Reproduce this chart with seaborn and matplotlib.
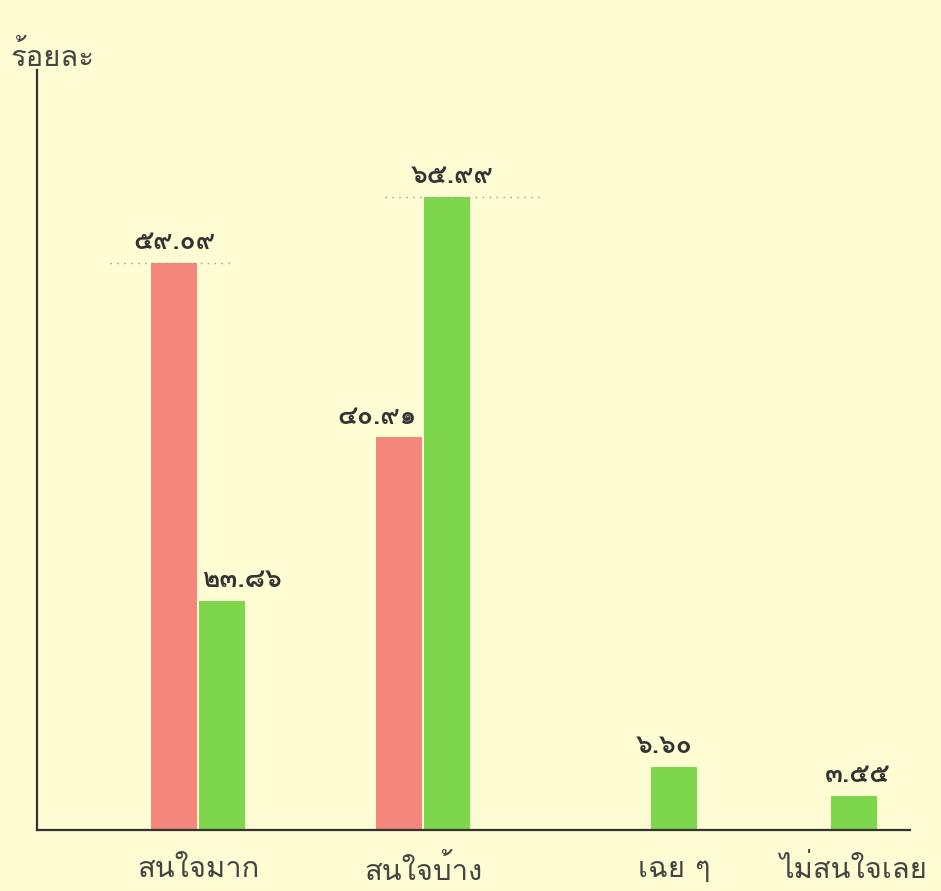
import matplotlib
matplotlib.use("Agg")
import matplotlib.pyplot as plt
import seaborn as sns
import pandas as pd

# ---- data ----
categories = ["สนใจมาก", "สนใจบ้าง", "เฉย ๆ", "ไม่สนใจเลย"]
red_values = [59.09, 40.91, None, None]
green_values = [23.86, 65.99, 6.60, 3.55]
red_labels = ["๕๙.๐๙", "๔๐.๙๑", None, None]
green_labels = ["๒๓.๘๖", "๖๕.๙๙", "๖.๖๐", "๓.๕๕"]
y_label = "ร้อยละ"

# ---- layout (pixel-like x units) ----
centers = [161, 386, 637, 817]
pair_offset = 24
BG = "#FEFCD3"
RED = "#F4867C"
GREEN = "#7DD64B"

sns.set_theme(style="white")
plt.rcParams["font.family"] = ["Loma", "DejaVu Sans"]

rows = []
for i, c in enumerate(categories):
    both = red_values[i] is not None
    if both:
        rows.append(dict(x=centers[i] - pair_offset, value=red_values[i], series="r",
                         label=red_labels[i]))
    rows.append(dict(x=centers[i] + (pair_offset if both else 0), value=green_values[i],
                     series="g", label=green_labels[i]))
df = pd.DataFrame(rows)

fig = plt.figure(figsize=(9.41, 8.91), dpi=100, facecolor=BG)
ax = fig.add_axes([37 / 941, 1 - 830 / 891, (910 - 37) / 941, (830 - 70) / 891])
ax.set_facecolor(BG)

sns.barplot(data=df, x="x", y="value", hue="series", palette={"r": RED, "g": GREEN},
            native_scale=True, dodge=False, width=46 / 48, legend=False, ax=ax,
            linewidth=0, saturation=1)

ax.set_xlim(0, 873)
ax.set_ylim(0, 79.2)

# value labels
label_dx = {"๒๓.๘๖": 20, "๔๐.๙๑": -22, "๖๕.๙๙": 5, "๖.๖๐": -10, "๓.๕๕": 4}
for _, r in df.iterrows():
    ax.text(r["x"] + label_dx.get(r["label"], 0), r["value"] + 0.9, r["label"],
            ha="center", va="bottom", fontsize=19, color="#333333", fontweight="bold")

# faint dotted guide lines
ax.hlines(red_values[0], 73, 193, colors="#999999", linestyles=(0, (1, 4)), lw=1)
ax.hlines(green_values[1], 348, 503, colors="#999999", linestyles=(0, (1, 4)), lw=1)

ax.set_xticks(centers)
ax.set_xticklabels(categories, fontsize=21, color="#444444")
ax.tick_params(axis="x", length=0, pad=18)
ax.set_yticks([])
ax.set_xlabel("")
ax.set_ylabel("")
for s in ["top", "right"]:
    ax.spines[s].set_visible(False)
for s in ["left", "bottom"]:
    ax.spines[s].set_color("#333333")
    ax.spines[s].set_linewidth(1.6)

fig.text(10 / 941, 1 - 66 / 891, y_label, fontsize=21, color="#444444",
         ha="left", va="baseline")

fig.savefig("out.png", dpi=100, facecolor=BG)
